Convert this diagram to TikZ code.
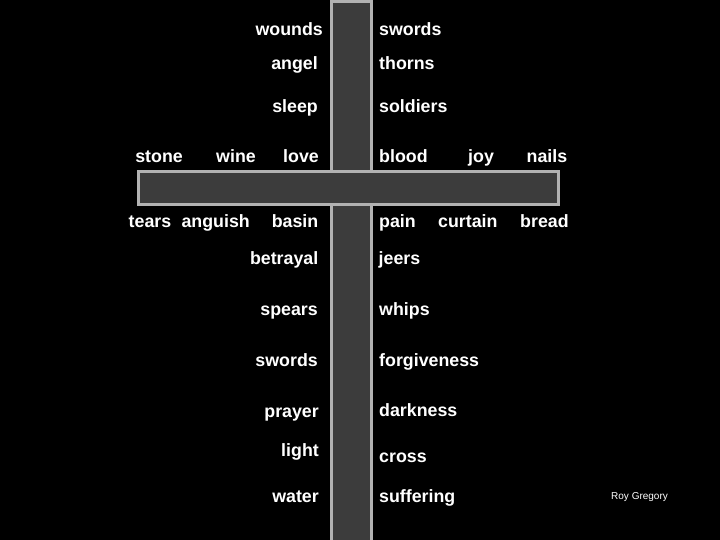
\documentclass[tikz,border=0pt]{standalone}
\usepackage{fontspec}
\setmainfont{Liberation Sans}
\definecolor{beam}{RGB}{60,60,60}
\definecolor{rim}{RGB}{178,178,178}

\begin{document}
\begin{tikzpicture}[x=1pt,y=-1pt,
  word/.style={text=white,inner sep=0pt,font=\fontsize{17.8}{20}\selectfont\bfseries},
  beamrect/.style={fill=beam,draw=rim,line width=3pt}]
  \useasboundingbox[fill=black] (0,0) rectangle (720,540);
  % the cross: upright first, crossbeam laid over it
  \draw[beamrect] (331.5,546) rectangle (371.5,1.5);
  \draw[beamrect] (138.5,171.5) rectangle (558.5,204.5);
  % words left of the upright (right ends line up)
  \foreach \w/\x/\y in {wounds/323/36,angel/318/70,sleep/318/113,
      stone/183/163,wine/256/163,love/319/163,
      tears/171.5/228,anguish/250/228,basin/318.5/228,
      betrayal/318.5/264,spears/318/315,swords/318/366,
      prayer/319/417,light/319/456.5,water/319/502} {
    \node[word,anchor=base east] (l\w) at (\x,\y) {\w};
  }
  % words right of the upright
  \foreach \w/\x/\y in {swords/379/36,thorns/379/70,soldiers/379/113,
      blood/379/163,joy/468/163,nails/526.5/163,
      pain/379/228,curtain/438/228,bread/520/228,
      jeers/378.5/264,whips/379/315,forgiveness/379/366,
      darkness/379/416.5,cross/379/462.5,suffering/379/502} {
    \node[word,anchor=base west] (r\w) at (\x,\y) {\w};
  }
  \node[text=white,inner sep=0pt,anchor=base west,font=\fontsize{10}{12}\selectfont] (credit) at (611,499.5) {Roy Gregory};
\end{tikzpicture}
\end{document}
